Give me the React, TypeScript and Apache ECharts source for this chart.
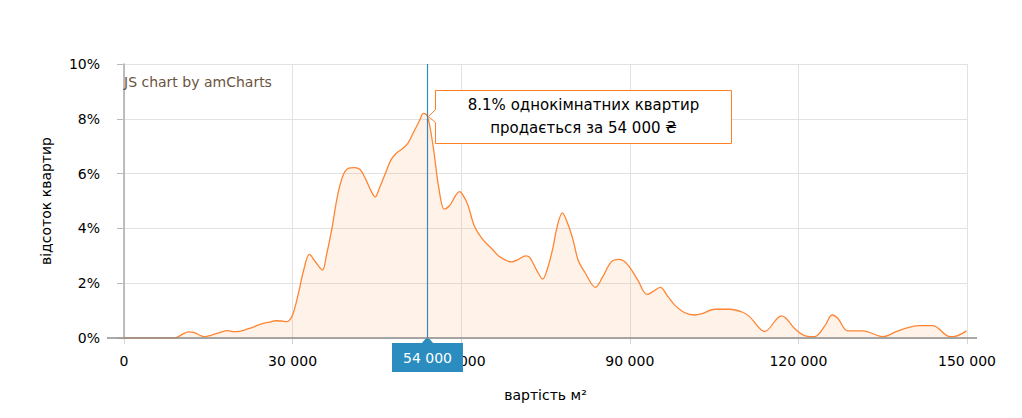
import React, { useEffect, useRef } from "react";
import * as echarts from "echarts";

// price per m² (UAH) and share of one-room flats (%)
const prices = [
  0, 5000, 9000, 9500, 10500, 11500, 12500, 13500, 14300, 15500, 17000, 18500, 19500, 20500,
  22000, 23000, 24500, 26000, 27000, 28000, 29000, 30000, 31000, 32000, 33000, 34000, 35300,
  36000, 37000, 38000, 39000, 40000, 41000, 42000, 43000, 44000, 44700, 45500, 46500, 47500,
  48500, 49500, 50500, 51500, 52500, 53300, 54000, 55000, 56000, 57000, 58000, 59000, 59700,
  60500, 61200, 62400, 63900, 65500, 66800, 68900, 70000, 71500, 72200, 73500, 74500, 75300,
  76300, 77000, 78000, 79000, 79900, 80800, 82000, 83900, 85200, 86700, 88100, 89000, 90000,
  91400, 93100, 94100, 95400, 96800, 98000, 99800, 101500, 103000, 105100, 107800, 110100,
  111300, 114000, 117000, 117800, 119600, 121400, 122900, 124700, 126000, 127000, 128800,
  131500, 135000, 137400, 139500, 141300, 143900, 146600, 147500, 149900,
];
const shares = [
  0, 0, 0, 0.03, 0.15, 0.22, 0.2, 0.1, 0.05, 0.1, 0.2, 0.27, 0.23, 0.24,
  0.33, 0.4, 0.52, 0.58, 0.63, 0.62, 0.6, 0.85, 1.6, 2.5, 3.05, 2.8, 2.48,
  3.0, 4.0, 5.2, 5.95, 6.2, 6.22, 6.15, 5.8, 5.35, 5.15, 5.5, 6.0, 6.5,
  6.75, 6.9, 7.1, 7.5, 7.9, 8.2, 8.1, 7.0, 5.5, 4.7, 4.85, 5.2, 5.34,
  5.15, 4.85, 4.06, 3.58, 3.25, 2.97, 2.78, 2.85, 3.0, 2.94, 2.45, 2.15, 2.5,
  3.27, 4.0, 4.57, 4.15, 3.58, 2.85, 2.4, 1.85, 2.24, 2.78, 2.87, 2.8, 2.58,
  2.12, 1.59, 1.69, 1.85, 1.51, 1.2, 0.92, 0.84, 0.9, 1.05, 1.05, 0.94,
  0.78, 0.24, 0.81, 0.72, 0.29, 0.07, 0.05, 0.44, 0.84, 0.72, 0.26,
  0.26, 0.05, 0.23, 0.38, 0.45, 0.45, 0.07, 0.05, 0.26,
];
const cursorPrice = 54000;
const cursorShare = 8.1;

const FONT = "DejaVu Sans";
const fmt = (v: number) => String(v).replace(/\B(?=(\d{3})+(?!\d))/g, " ");

export default function App() {
  const ref = useRef<HTMLDivElement>(null);
  useEffect(() => {
    const chart = echarts.init(ref.current!, null, { renderer: "svg" });
    chart.setOption({
      animation: false,
      textStyle: { fontFamily: FONT },
      title: {
        text: "JS chart by amCharts",
        left: 119,
        top: 70,
        textStyle: { fontSize: 14, fontWeight: "normal", color: "#6b5440", fontFamily: FONT },
      },
      grid: { left: 124, right: 55, top: 64, bottom: 80 },
      xAxis: {
        type: "value",
        min: 0,
        max: 150000,
        interval: 30000,
        axisLine: { show: false },
        axisTick: { show: true, length: 6, lineStyle: { color: "#d4d4d4" } },
        splitLine: { show: true, lineStyle: { color: "#e2e2e2" } },
        axisLabel: { formatter: (v: number) => fmt(v), color: "#000", fontSize: 14, margin: 16, fontFamily: FONT },
        name: "вартість м²",
        nameLocation: "middle",
        nameGap: 50,
        nameTextStyle: { color: "#000", fontSize: 14, fontFamily: FONT },
      },
      yAxis: {
        type: "value",
        min: 0,
        max: 10,
        interval: 2,
        offset: 9,
        axisLine: { show: true, lineStyle: { color: "#aaa", width: 1.5 } },
        axisTick: { show: true, length: 7, lineStyle: { color: "#bbb" } },
        splitLine: { show: true, lineStyle: { color: "#e2e2e2" } },
        axisLabel: { formatter: "{value}%", color: "#000", fontSize: 14, margin: 15, fontFamily: FONT },
        name: "відсоток квартир",
        nameLocation: "middle",
        nameGap: 62,
        nameRotate: 90,
        nameTextStyle: { color: "#000", fontSize: 14, fontFamily: FONT },
      },
      series: [
        {
          type: "line",
          data: prices.map((p, i) => [p, shares[i]]),
          smooth: 0.35,
          showSymbol: false,
          lineStyle: { color: "#ff8533", width: 1.3 },
          itemStyle: { color: "#ff8533" },
          areaStyle: { color: "rgba(255,133,51,0.15)" },
          markLine: {
            silent: true,
            symbol: "none",
            lineStyle: { color: "#3a86bd", width: 1.2, type: "solid" },
            label: {
              show: true,
              position: "start",
              distance: 5,
              formatter: fmt(cursorPrice),
              backgroundColor: "#2a8cbf",
              color: "#fff",
              fontSize: 14,
              fontFamily: FONT,
              padding: [8, 11, 7, 11],
            },
            data: [{ xAxis: cursorPrice }],
          },
          markPoint: {
            silent: true,
            data: [
              {
                coord: [cursorPrice, 0],
                symbol: "triangle",
                symbolSize: [12, 7],
                symbolOffset: [0, 2],
                itemStyle: { color: "#2a8cbf" },
                label: { show: false },
              },
            ],
          },
        },
      ],
    });

    const [px, py] = chart.convertToPixel({ seriesIndex: 0 }, [cursorPrice, cursorShare]) as number[];
    const [x0, y0] = chart.convertToPixel({ seriesIndex: 0 }, [0, 0]) as number[];
    const [x1] = chart.convertToPixel({ seriesIndex: 0 }, [150000, 0]) as number[];
    const gx = Math.round(px) + 0.5;
    const gy = Math.round(py) + 0.5;
    chart.setOption({
      graphic: [
        {
          id: "baseline",
          type: "line",
          shape: { x1: x0 - 17, y1: y0, x2: x1 + 10, y2: y0 },
          style: { stroke: "#8c8c8c", lineWidth: 1.5 },
          z: 5,
        },
        {
          id: "balloon",
          type: "group",
          x: gx,
          y: gy,
          z: 20,
          children: [
            {
              type: "polygon",
              shape: {
                points: [
                  [8, -26],
                  [304, -26],
                  [304, 27],
                  [8, 27],
                  [8, 6],
                  [1, 0],
                  [8, -7],
                ],
              },
              style: { fill: "#fff", stroke: "#ff7f27", lineWidth: 1 },
            },
            {
              type: "text",
              x: 156,
              y: 0,
              style: {
                text: `${cursorShare}% однокімнатних квартир\nпродається за ${fmt(cursorPrice)} ₴`,
                align: "center",
                verticalAlign: "middle",
                fill: "#000",
                fontSize: 15,
                lineHeight: 23,
                fontFamily: FONT,
              },
            },
          ],
        },
      ],
    });
    return () => chart.dispose();
  }, []);
  return <div ref={ref} style={{ position: "absolute", left: 0, top: 0, width: 1022, height: 418 }} />;
}
